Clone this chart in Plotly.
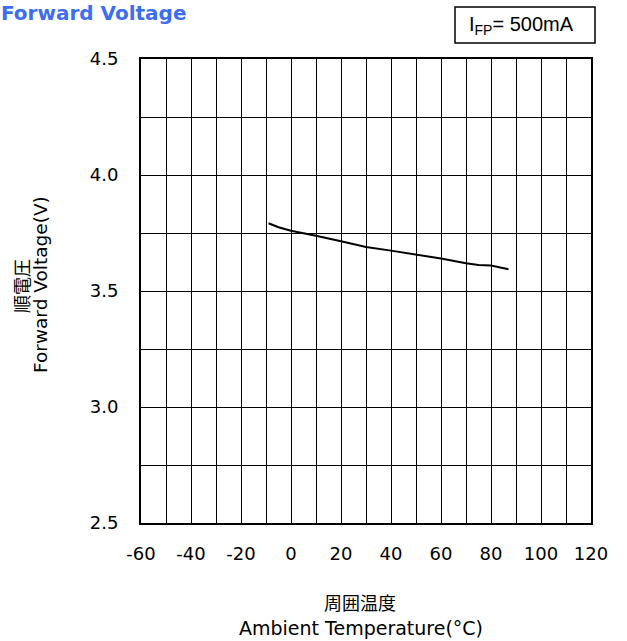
import plotly.graph_objects as go

# Data
temperature_c = [-9, -5, 0, 5, 10, 20, 30, 40, 50, 60, 70, 75, 80, 87]
forward_voltage_v = [3.792, 3.775, 3.760, 3.750, 3.738, 3.714, 3.690, 3.674,
                     3.658, 3.640, 3.620, 3.612, 3.610, 3.594]
x_ticks = [-60, -40, -20, 0, 20, 40, 60, 80, 100, 120]
y_ticks = [2.5, 3.0, 3.5, 4.0, 4.5]
y_tick_labels = ["2.5", "3.0", "3.5", "4.0", "4.5"]

W, H = 627, 641
L, R, T, B = 141, 36, 59, 118
PW, PH = W - L - R, H - T - B

def px(x):
    return (x - L) / PW

def py(y):
    return (H - B - y) / PH

fig = go.Figure()
fig.add_trace(go.Scatter(x=temperature_c, y=forward_voltage_v, mode="lines",
                         line=dict(color="black", width=2), showlegend=False,
                         hoverinfo="skip"))

tick_font = dict(family="DejaVu Sans", size=18, color="black")
fig.update_xaxes(range=[-60, 120], tickvals=x_ticks, ticktext=[str(v) for v in x_ticks],
                 showgrid=True, gridcolor="black", gridwidth=1,
                 minor=dict(dtick=10, tick0=-60, showgrid=True, gridcolor="black", gridwidth=1),
                 showline=True, linecolor="black", linewidth=2, mirror=True,
                 ticks="", zeroline=False, tickfont=tick_font, ticklabelstandoff=13)
fig.update_yaxes(range=[2.5, 4.5], tickvals=y_ticks, ticktext=y_tick_labels,
                 showgrid=True, gridcolor="black", gridwidth=1,
                 minor=dict(dtick=0.25, tick0=2.5, showgrid=True, gridcolor="black", gridwidth=1),
                 showline=True, linecolor="black", linewidth=2, mirror=True,
                 ticks="", zeroline=False, tickfont=tick_font, ticklabelstandoff=17)

ann = []
ann.append(dict(text="<b>Forward Voltage</b>", x=px(0), y=py(0), xref="paper", yref="paper",
                xanchor="left", yanchor="top", showarrow=False, borderpad=0,
                font=dict(family="DejaVu Sans", size=20, color="#3d6ef2")))
ann.append(dict(text="I<sub>FP</sub>= 500mA", x=px(467), y=py(25), xref="paper", yref="paper",
                xanchor="left", yanchor="middle", showarrow=False,
                font=dict(family="Liberation Sans", size=20, color="black")))
ann.append(dict(text="順電圧", x=px(21), y=py(286), xref="paper", yref="paper",
                textangle=-90, xanchor="center", yanchor="middle", showarrow=False,
                font=dict(family="Noto Sans CJK JP", size=18, color="black")))
ann.append(dict(text="Forward Voltage(V)", x=px(40), y=py(285), xref="paper", yref="paper",
                textangle=-90, xanchor="center", yanchor="middle", showarrow=False,
                font=dict(family="DejaVu Sans", size=18.5, color="black")))
ann.append(dict(text="周囲温度", x=px(360), y=py(602), xref="paper", yref="paper",
                xanchor="center", yanchor="middle", showarrow=False,
                font=dict(family="Noto Sans CJK JP", size=18, color="black")))
ann.append(dict(text="Ambient Temperature(°C)", x=px(361), y=py(628), xref="paper", yref="paper",
                xanchor="center", yanchor="middle", showarrow=False,
                font=dict(family="DejaVu Sans", size=19, color="black")))

fig.update_layout(width=W, height=H, margin=dict(l=L, r=R, t=T, b=B),
                  paper_bgcolor="white", plot_bgcolor="white", annotations=ann,
                  shapes=[dict(type="rect", xref="paper", yref="paper",
                               x0=px(455), x1=px(595), y0=py(43), y1=py(7),
                               line=dict(color="black", width=1.5))])

fig.write_html("out.html", config={"displayModeBar": False},
               post_script="document.body.style.margin='0px';document.body.style.overflow='hidden';")
